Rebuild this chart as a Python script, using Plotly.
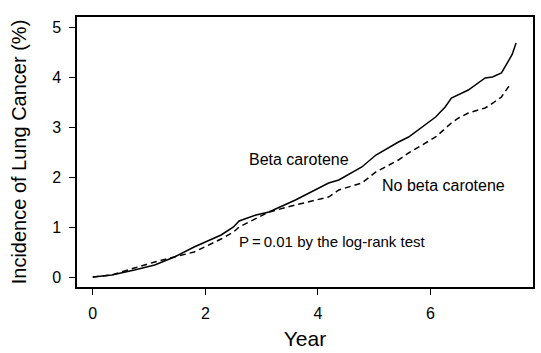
import plotly.graph_objects as go

beta_years = [0, 0.34, 0.74, 1.1, 1.45, 1.8, 2.28, 2.5, 2.6, 2.9, 3.13, 3.6, 4.19, 4.37, 4.78,
              5.03, 5.43, 5.61, 6.09, 6.26, 6.37, 6.67, 6.97, 7.1, 7.26, 7.38, 7.45, 7.52]
beta_vals = [0, 0.04, 0.14, 0.24, 0.4, 0.6, 0.84, 1.0, 1.12, 1.24, 1.3, 1.54, 1.88, 1.94, 2.2,
             2.44, 2.7, 2.8, 3.2, 3.4, 3.58, 3.74, 3.98, 4.0, 4.08, 4.3, 4.45, 4.68]

nobeta_years = [0, 0.34, 0.74, 1.1, 1.45, 1.8, 2.28, 2.5, 2.6, 3.13, 3.6, 4.19, 4.37, 4.78,
                5.03, 5.43, 5.61, 6.09, 6.37, 6.5, 6.67, 6.97, 7.11, 7.26, 7.38, 7.46]
nobeta_vals = [0, 0.04, 0.18, 0.3, 0.4, 0.5, 0.76, 0.9, 1.0, 1.3, 1.44, 1.6, 1.74, 1.88,
               2.1, 2.34, 2.48, 2.8, 3.08, 3.18, 3.28, 3.38, 3.48, 3.6, 3.8, 3.84]

x_ticks = [0, 2, 4, 6]
y_ticks = [0, 1, 2, 3, 4, 5]

FONT = "Liberation Sans, Arial, Helvetica, sans-serif"

fig = go.Figure()
fig.add_trace(go.Scatter(x=beta_years, y=beta_vals, mode="lines",
                         line=dict(color="black", width=1.5), name="Beta carotene"))
fig.add_trace(go.Scatter(x=nobeta_years, y=nobeta_vals, mode="lines",
                         line=dict(color="black", width=1.5, dash="6px,4px"), name="No beta carotene"))

fig.add_annotation(x=3.66, y=2.36, text="Beta carotene", showarrow=False,
                   font=dict(family=FONT, size=16, color="black"))
fig.add_annotation(x=6.23, y=1.84, text="No beta carotene", showarrow=False,
                   font=dict(family=FONT, size=16, color="black"))
fig.add_annotation(x=4.25, y=0.72, text="P\u2009=\u20090.01 by the log-rank test", showarrow=False,
                   font=dict(family=FONT, size=15, color="black"))

fig.update_layout(
    width=541, height=353,
    margin=dict(l=77, r=6, t=17, b=66),
    paper_bgcolor="white", plot_bgcolor="white",
    showlegend=False,
    font=dict(family=FONT, color="black"),
)
fig.update_xaxes(range=[-0.28, 7.82], tickvals=x_ticks, ticks="outside", ticklen=6,
                 tickcolor="black", showgrid=False, zeroline=False,
                 showline=True, linecolor="black", linewidth=1.5, mirror=True,
                 tickfont=dict(size=16), ticklabelstandoff=5,
                 title=dict(text="Year", font=dict(size=21), standoff=10))
fig.update_yaxes(range=[-0.2, 5.2], tickvals=y_ticks, ticks="outside", ticklen=6,
                 tickcolor="black", showgrid=False, zeroline=False,
                 showline=True, linecolor="black", linewidth=1.5, mirror=True,
                 tickfont=dict(size=16), ticklabelstandoff=5,
                 title=dict(text="Incidence of Lung Cancer (%)", font=dict(size=20), standoff=20))

fig.write_html("out.html")
